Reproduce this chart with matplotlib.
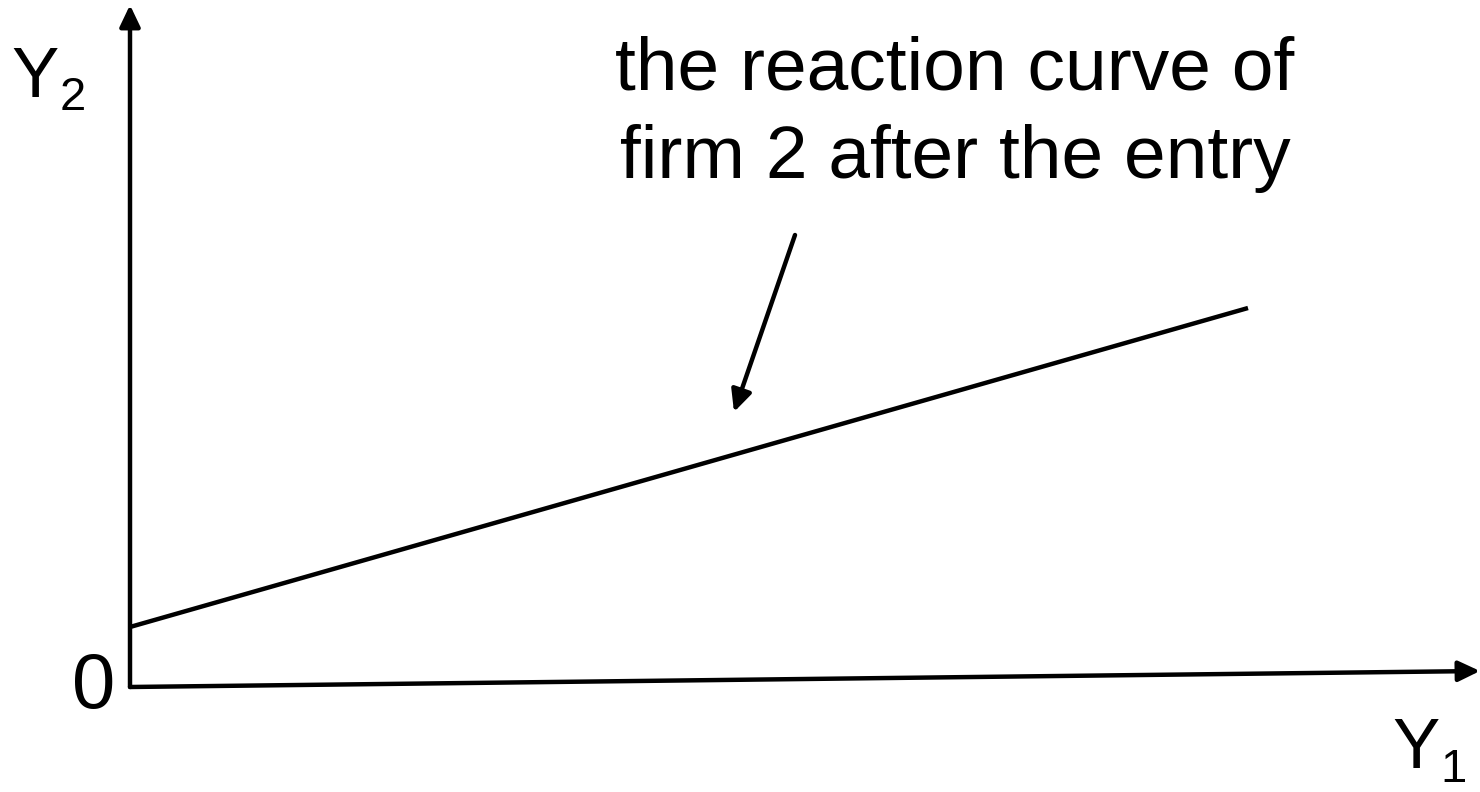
import matplotlib
matplotlib.use("Agg")
import matplotlib.pyplot as plt

# --- diagram data (pixel space of the original slide) -----------------------
origin = (130, 687)
y_axis_top = (130, 5)
x_axis_end = (1480, 671)
reaction_x = [130, 1248]
reaction_y = [627, 308]
pointer_start = (795, 235)
pointer_end = (734, 412)

caption_lines = ["the reaction curve of", "firm 2 after the entry"]

plt.rcParams["font.family"] = ["Liberation Sans", "DejaVu Sans"]

fig = plt.figure(figsize=(14.8, 7.92), dpi=100)
ax = fig.add_axes([0, 0, 1, 1])
ax.set_xlim(0, 1480)
ax.set_ylim(792, 0)
ax.axis("off")

arrow_kw = dict(arrowstyle="-|>,head_length=1.3,head_width=0.62", lw=3.2,
                color="black", shrinkA=0, shrinkB=0)

# axes
ax.annotate("", xy=y_axis_top, xytext=origin, arrowprops=arrow_kw)
ax.annotate("", xy=x_axis_end, xytext=origin, arrowprops=arrow_kw)

# reaction curve
ax.plot(reaction_x, reaction_y, color="black", lw=3.2, solid_capstyle="butt")

# pointer arrow
ax.annotate("", xy=pointer_end, xytext=pointer_start, arrowprops=arrow_kw)

# caption
ax.text(955, 90, caption_lines[0], fontsize=54, ha="center", va="baseline")
ax.text(955, 178, caption_lines[1], fontsize=54, ha="center", va="baseline")

# axis labels
ax.text(11, 97, "Y", fontsize=51, ha="left", va="baseline")
ax.text(60, 110, "2", fontsize=34, ha="left", va="baseline")
ax.text(72, 708, "0", fontsize=56, ha="left", va="baseline")
ax.text(1392, 768, "Y", fontsize=51, ha="left", va="baseline")
ax.text(1440, 782, "1", fontsize=34, ha="left", va="baseline")

fig.savefig("out.png", dpi=100)
